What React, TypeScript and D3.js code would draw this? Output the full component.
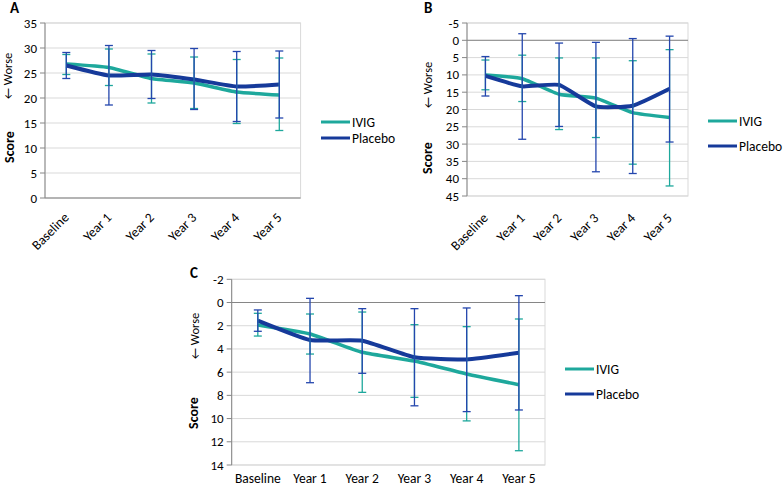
import React from 'react';
import * as d3 from 'd3';

const categories = ['Baseline', 'Year 1', 'Year 2', 'Year 3', 'Year 4', 'Year 5'];
const seriesNames = ['IVIG', 'Placebo'];

// Panel A
const ivigA = [26.8, 26.1, 23.9, 23.0, 21.2, 20.6];
const ivigALow = [24.7, 22.5, 19.0, 17.9, 14.9, 13.5];
const ivigAHigh = [28.7, 29.8, 28.8, 28.2, 27.7, 28.0];
const placeboA = [26.5, 24.5, 24.7, 23.7, 22.3, 22.7];
const placeboALow = [23.9, 18.6, 19.9, 17.7, 15.3, 16.0];
const placeboAHigh = [29.1, 30.5, 29.5, 29.9, 29.3, 29.4];
const ticksA = [0, 5, 10, 15, 20, 25, 30, 35];

// Panel B
const ivigB = [10.0, 11.1, 15.6, 16.7, 20.9, 22.3];
const ivigBLow = [5.7, 4.3, 5.1, 5.1, 5.9, 2.7];
const ivigBHigh = [14.3, 17.7, 25.8, 28.1, 35.8, 42.1];
const placeboB = [10.3, 13.3, 12.9, 19.1, 18.9, 14.0];
const placeboBLow = [4.7, -1.9, 0.8, 0.6, -0.5, -1.2];
const placeboBHigh = [16.1, 28.6, 24.9, 38.0, 38.5, 29.4];
const ticksB = [-5, 0, 5, 10, 15, 20, 25, 30, 35, 40, 45];

// Panel C
const ivigC = [1.94, 2.71, 4.29, 5.04, 6.16, 7.08];
const ivigCLow = [0.93, 0.99, 0.82, 1.91, 2.08, 1.42];
const ivigCHigh = [2.89, 4.44, 7.74, 8.17, 10.2, 12.77];
const placeboC = [1.56, 3.23, 3.29, 4.72, 4.9, 4.32];
const placeboCLow = [0.64, -0.36, 0.53, 0.53, 0.47, -0.59];
const placeboCHigh = [2.48, 6.91, 6.1, 8.9, 9.4, 9.26];
const ticksC = [-2, 0, 2, 4, 6, 8, 10, 12, 14];

const TEAL = '#1ea89c';
const NAVY = '#163a9a';
const NAVY_BAR = '#2446ad';
const FONT = 'Carlito, Calibri, Lato, sans-serif';
const FS = 13.5;

interface Series {
  values: number[];
  low: number[];
  high: number[];
  color: string;
  barColor: string;
  width: number;
}

interface PanelProps {
  letter: string;
  letterPos: [number, number];
  series: Series[];
  ticks: number[];
  xRange: [number, number];
  yRange: [number, number];
  rotateLabels: boolean;
  labelOffset: number;
  scorePos: [number, number];
  worsePos: [number, number];
  legend: { x: number; y: number[] };
}

const Panel: React.FC<PanelProps> = (p) => {
  const x = d3.scaleBand().domain(categories).range(p.xRange);
  const y = d3.scaleLinear().domain(d3.extent(p.ticks) as [number, number]).range(p.yRange);
  const cx = (c: string) => (x(c) as number) + x.bandwidth() / 2;
  const [left, right] = p.xRange;
  const top = Math.min(...p.yRange);
  const bottom = Math.max(...p.yRange);
  // Excel-style light smoothing
  const line = d3
    .line<number>()
    .x((_, i) => cx(categories[i]))
    .y((d) => y(d))
    .curve(d3.curveCardinal.tension(0.55));
  const zeroY = y(0);

  return (
    <g fontFamily={FONT}>
      <text x={p.letterPos[0]} y={p.letterPos[1]} fontSize={15} fontWeight="bold" fill="#000">
        {p.letter}
      </text>
      <rect x={left} y={top} width={right - left} height={bottom - top} fill="none" stroke="#d9d9d9" />
      {p.ticks.map((t) => (
        <g key={t}>
          <line x1={left} x2={right} y1={y(t)} y2={y(t)} stroke="#d9d9d9" strokeWidth={1} />
          <line x1={left - 5} x2={left} y1={y(t)} y2={y(t)} stroke="#868686" />
          <text x={left - 8} y={y(t)} dy="0.35em" textAnchor="end" fontSize={13} fill="#000">
            {t}
          </text>
        </g>
      ))}
      <line x1={left} x2={right} y1={zeroY} y2={zeroY} stroke="#868686" />
      <line x1={left} x2={left} y1={top} y2={bottom} stroke="#868686" />
      {categories.map((c) =>
        p.rotateLabels ? (
          <text
            key={c}
            transform={`translate(${cx(c)},${bottom + p.labelOffset}) rotate(-45)`}
            dy="0.35em"
            textAnchor="end"
            fontSize={FS}
            fill="#000"
          >
            {c}
          </text>
        ) : (
          <text key={c} x={cx(c)} y={bottom + p.labelOffset} textAnchor="middle" fontSize={FS} fill="#000">
            {c}
          </text>
        )
      )}
      {p.series.map((s, k) => (
        <path key={k} d={line(s.values) || ''} fill="none" stroke={s.color} strokeWidth={s.width} />
      ))}
      {p.series.map((s, k) => (
        <g key={k} stroke={s.barColor} strokeWidth={1.3}>
          {categories.map((c, i) => (
            <g key={c}>
              <line x1={cx(c)} x2={cx(c)} y1={y(s.low[i])} y2={y(s.high[i])} />
              <line x1={cx(c) - 4} x2={cx(c) + 4} y1={y(s.low[i])} y2={y(s.low[i])} />
              <line x1={cx(c) - 4} x2={cx(c) + 4} y1={y(s.high[i])} y2={y(s.high[i])} />
            </g>
          ))}
        </g>
      ))}
      <text
        transform={`translate(${p.scorePos[0]},${p.scorePos[1]}) rotate(-90)`}
        dy="0.35em"
        textAnchor="middle"
        fontSize={14}
        fontWeight="bold"
        fill="#000"
      >
        Score
      </text>
      <text
        transform={`translate(${p.worsePos[0]},${p.worsePos[1]}) rotate(-90)`}
        dy="0.35em"
        textAnchor="middle"
        fontSize={12.5}
        fill="#000"
      >
        ← Worse
      </text>
      {p.series.map((s, k) => (
        <g key={k}>
          <line x1={p.legend.x} x2={p.legend.x + 29} y1={p.legend.y[k]} y2={p.legend.y[k]} stroke={s.color} strokeWidth={3} />
          <text x={p.legend.x + 31} y={p.legend.y[k]} dy="0.35em" fontSize={FS} fill="#000">
            {seriesNames[k]}
          </text>
        </g>
      ))}
    </g>
  );
};

const mk = (values: number[], low: number[], high: number[], placebo: boolean): Series => ({
  values,
  low,
  high,
  color: placebo ? NAVY : TEAL,
  barColor: placebo ? NAVY_BAR : TEAL,
  width: placebo ? 4 : 3.5,
});

const App: React.FC = () => (
  <div style={{ position: 'absolute', left: 0, top: 0, background: '#fff' }}>
    <svg width={784} height={488} style={{ display: 'block' }}>
      <rect width={784} height={488} fill="#fff" />
      <Panel
        letter="A"
        letterPos={[10, 13]}
        series={[mk(ivigA, ivigALow, ivigAHigh, false), mk(placeboA, placeboALow, placeboAHigh, true)]}
        ticks={ticksA}
        xRange={[45, 300.6]}
        yRange={[198, 23]}
        rotateLabels
        labelOffset={17}
        scorePos={[9, 147]}
        worsePos={[8, 76]}
        legend={{ x: 321, y: [122, 138] }}
      />
      <Panel
        letter="B"
        letterPos={[424, 13]}
        series={[mk(ivigB, ivigBLow, ivigBHigh, false), mk(placeboB, placeboBLow, placeboBHigh, true)]}
        ticks={ticksB}
        xRange={[467, 688]}
        yRange={[23, 196]}
        rotateLabels
        labelOffset={19.5}
        scorePos={[427, 158]}
        worsePos={[428, 85]}
        legend={{ x: 708, y: [121, 146] }}
      />
      <Panel
        letter="C"
        letterPos={[190, 278]}
        series={[mk(ivigC, ivigCLow, ivigCHigh, false), mk(placeboC, placeboCLow, placeboCHigh, true)]}
        ticks={ticksC}
        xRange={[231.7, 545]}
        yRange={[279.3, 465]}
        rotateLabels={false}
        labelOffset={18}
        scorePos={[193, 413]}
        worsePos={[195, 336]}
        legend={{ x: 565, y: [369, 394] }}
      />
    </svg>
  </div>
);

export default App;
